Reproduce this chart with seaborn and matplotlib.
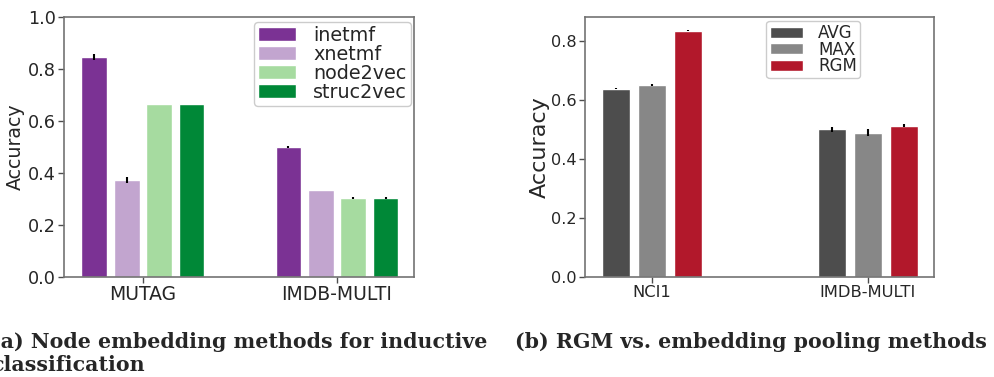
import pandas as pd
import matplotlib
matplotlib.use('Agg')
import matplotlib.pyplot as plt
import seaborn as sns

# (a) node embedding methods
datasets_a = ['MUTAG', 'IMDB-MULTI']
methods_a = ['inetmf', 'xnetmf', 'node2vec', 'struc2vec']
acc_a = {
    'inetmf': [0.845, 0.500],
    'xnetmf': [0.373, 0.333],
    'node2vec': [0.666, 0.305],
    'struc2vec': [0.666, 0.305],
}
err_a = {
    'inetmf': [0.012, 0.002],
    'xnetmf': [0.011, 0.0],
    'node2vec': [0.001, 0.004],
    'struc2vec': [0.001, 0.004],
}
colors_a = ['#7b3294', '#c2a5cf', '#a6dba0', '#008837']

# (b) RGM vs pooling
datasets_b = ['NCI1', 'IMDB-MULTI']
methods_b = ['AVG', 'MAX', 'RGM']
acc_b = {
    'AVG': [0.640, 0.501],
    'MAX': [0.652, 0.490],
    'RGM': [0.837, 0.514],
}
err_b = {
    'AVG': [0.002, 0.010],
    'MAX': [0.003, 0.012],
    'RGM': [0.001, 0.004],
}
colors_b = ['#4d4d4d', '#878787', '#b2182b']

sns.set_style('white')
plt.rcParams['font.family'] = ['DejaVu Sans']


def long_table(datasets, methods, acc):
    rows = []
    for m in methods:
        for d, v in zip(datasets, acc[m]):
            rows.append({'dataset': d, 'method': m, 'acc': v})
    return pd.DataFrame(rows)


def draw(ax, datasets, methods, acc, err, colors, width):
    df = long_table(datasets, methods, acc)
    sns.barplot(data=df, x='dataset', y='acc', hue='method', order=datasets,
                hue_order=methods, palette=colors, saturation=1, width=width,
                gap=0.2, errorbar=None, legend=True, ax=ax)
    # error bars at the centres of the drawn bars
    for cont, m in zip(ax.containers, methods):
        xs = [p.get_x() + p.get_width() / 2 for p in cont.patches]
        ys = [p.get_height() for p in cont.patches]
        ax.errorbar(xs, ys, yerr=err[m], fmt='none', ecolor='black',
                    elinewidth=1.5, capsize=0)
    for s in ax.spines.values():
        s.set_color('0.45')
        s.set_linewidth(1.2)
    ax.tick_params(axis='both', which='major', bottom=True, left=True,
                   length=4, width=1, color='0.3', pad=2)
    ax.set_xlabel('')


fig = plt.figure(figsize=(9.95, 3.77), dpi=100)
ax1 = fig.add_axes([64 / 995, 100 / 377, 350 / 995, 260 / 377])
ax2 = fig.add_axes([585 / 995, 100 / 377, 349 / 995, 260 / 377])

draw(ax1, datasets_a, methods_a, acc_a, err_a, colors_a, 0.667)
ax1.set_xlim(-0.407, 1.397)
ax1.set_ylim(0, 1.0)
ax1.set_yticks([0, 0.2, 0.4, 0.6, 0.8, 1.0])
ax1.tick_params(axis='y', labelsize=12.7)
ax1.tick_params(axis='x', labelsize=13.5)
ax1.set_ylabel('Accuracy', fontsize=13.7)
ax1.yaxis.set_label_coords(-0.111, 0.5)
ax1.legend(loc='upper right', bbox_to_anchor=(0.991, 0.981), borderaxespad=0,
           fontsize=13.8, labelspacing=0, handlelength=2.0, handletextpad=0.9,
           borderpad=0.2, framealpha=1)

draw(ax2, datasets_b, methods_b, acc_b, err_b, colors_b, 0.5)
ax2.set_xlim(-0.31, 1.306)
ax2.set_ylim(0, 0.883)
ax2.set_yticks([0, 0.2, 0.4, 0.6, 0.8])
ax2.tick_params(axis='y', labelsize=11.6)
ax2.tick_params(axis='x', labelsize=11.8)
ax2.set_ylabel('Accuracy', fontsize=16)
ax2.yaxis.set_label_coords(-0.100, 0.5)
ax2.legend(loc='upper left', bbox_to_anchor=(0.52, 0.985), borderaxespad=0,
           fontsize=12, labelspacing=-0.1, handlelength=2.0, handleheight=0.64,
           handletextpad=0.9, borderpad=0.2, framealpha=1)

cap = dict(family='DejaVu Serif', fontweight='bold', fontsize=14.8, va='center', ha='left')
fig.text(-9 / 995, 1 - 342 / 377, '(a) Node embedding methods for inductive', **cap)
fig.text(-9 / 995, 1 - 365 / 377, 'classification', **cap)
fig.text(515 / 995, 1 - 342 / 377, '(b) RGM vs. embedding pooling methods', **cap)

fig.savefig('out.png', dpi=100)
